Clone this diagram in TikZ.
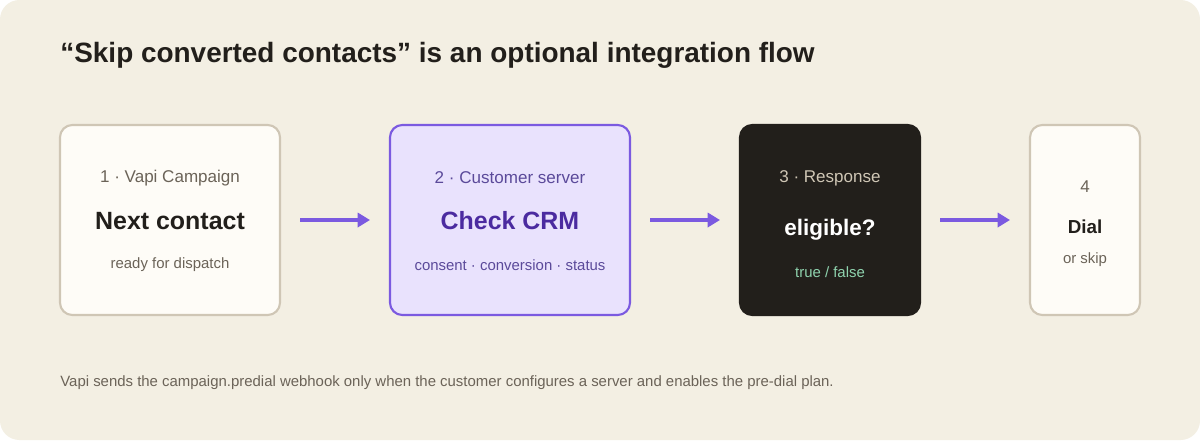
\documentclass[tikz,border=0pt]{standalone}
\usepackage{fontspec}
\setmainfont{Liberation Sans}
\usetikzlibrary{arrows.meta}
\definecolor{bgbeige}{HTML}{F3EFE3}
\definecolor{cardfill}{HTML}{FEFCF7}
\definecolor{cardline}{HTML}{CFC6B5}
\definecolor{violet}{HTML}{7B5AE0}
\definecolor{violetfill}{HTML}{E9E2FD}
\definecolor{violetdark}{HTML}{4B2BA0}
\definecolor{violettext}{HTML}{5B4A9A}
\definecolor{darkcard}{HTML}{221F1B}
\definecolor{graytext}{HTML}{6B6358}
\definecolor{greentext}{HTML}{8FD3AE}

\tikzstyle{card}=[draw=cardline, fill=cardfill, line width=1.2pt, rounded corners=7pt]
\tikzstyle{small}=[inner sep=0pt, font=\fontsize{9.7}{11}\selectfont, text=graytext]
\tikzstyle{note}=[inner sep=0pt, font=\fontsize{8.5}{10}\selectfont, text=graytext]
\tikzstyle{big}=[inner sep=0pt, font=\fontsize{14.2}{17}\selectfont\bfseries, text=darkcard]
\tikzstyle{flow}=[violet, line width=1.8pt, -{Triangle[length=7pt,width=8pt]}]

\begin{document}
\begin{tikzpicture}[x=0.02cm, y=-0.02cm]
      \fill[bgbeige, rounded corners=11pt] (0,0) rectangle (1200,440);
      \useasboundingbox (0,0) rectangle (1200,440);

      \node[inner sep=0pt, anchor=west, font=\fontsize{15.9}{19}\selectfont\bfseries, text=darkcard] (title) at (60,55)
        {“Skip converted contacts” is an optional integration flow};

      % cards
      \draw[card] (60,125) rectangle (280,315);
      \draw[card, draw=violet, fill=violetfill] (390,125) rectangle (630,315);
      \draw[card, draw=darkcard, fill=darkcard] (740,125) rectangle (920,315);
      \draw[card] (1030,125) rectangle (1140,315);

      \node[small] (c1a) at (170,178) {1 · Vapi Campaign};
      \node[big] (c1b) at (170,221) {Next contact};
      \node[note] (c1c) at (170,265) {ready for dispatch};

      \node[small, text=violettext] (c2a) at (510,178) {2 · Customer server};
      \node[big, text=violetdark] (c2b) at (510,221) {Check CRM};
      \node[note, text=violettext] (c2c) at (510,265) {consent · conversion · status};

      \node[small, text=cardline] (c3a) at (830,178) {3 · Response};
      \node[big, text=white, font=\fontsize{12.8}{15}\selectfont\bfseries] (c3b) at (830,230) {eligible?};
      \node[note, text=greentext] (c3c) at (830,272) {true / false};

      \node[small] (c4a) at (1085,187) {4};
      \node[big, font=\fontsize{10.7}{13}\selectfont\bfseries] (c4b) at (1085,227) {Dial};
      \node[note] (c4c) at (1085,260) {or skip};

      % arrows
      \coordinate (a1) at (300,220); \coordinate (b1) at (370,220);
      \coordinate (a2) at (650,220); \coordinate (b2) at (720,220);
      \coordinate (a3) at (940,220); \coordinate (b3) at (1010,220);
      \draw[flow] (a1) -- (b1);
      \draw[flow] (a2) -- (b2);
      \draw[flow] (a3) -- (b3);

      \node[note, anchor=west] (foot) at (60,383)
        {Vapi sends the campaign.predial webhook only when the customer configures a server and enables the pre-dial plan.};
\end{tikzpicture}
\end{document}
